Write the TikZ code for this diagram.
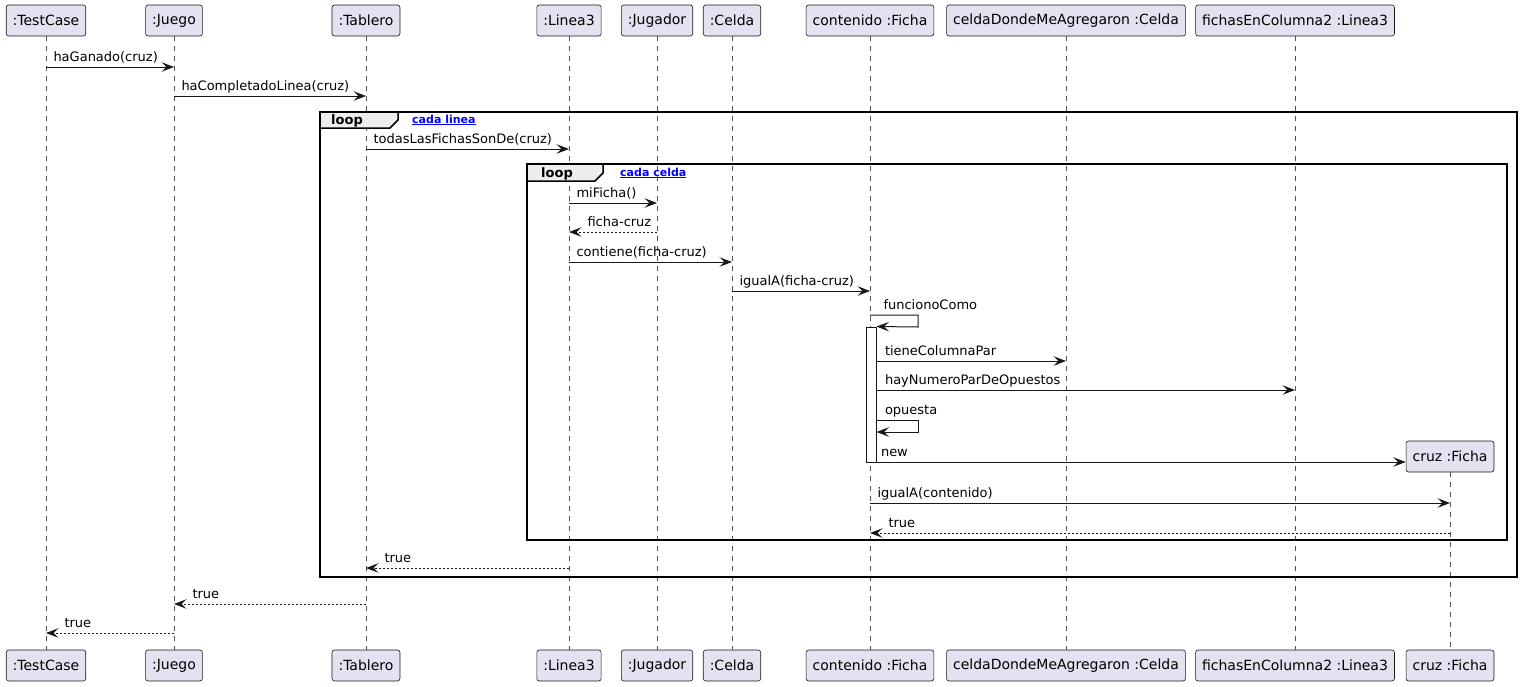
\documentclass[tikz,border=0pt]{standalone}
\usepackage{fontspec}
\setmainfont{DejaVu Sans}
\usetikzlibrary{arrows.meta}
\definecolor{pfill}{HTML}{E2E2F0}
\definecolor{pline}{HTML}{181818}
\definecolor{tabfill}{HTML}{EEEEEE}
\definecolor{condblue}{HTML}{0000FF}

\begin{document}
\begin{tikzpicture}[
  x=1pt,y=-1pt,
  part/.style={draw=pline,fill=pfill,rounded corners=2.5pt,line width=0.6pt,
               font=\fontsize{14}{16}\selectfont,minimum height=31pt,
               inner xsep=6.5pt,inner ysep=0pt},
  life/.style={draw=pline!75,line width=0.6pt,dash pattern=on 5pt off 5pt},
  msg/.style={-{Stealth[length=12.5pt,width=9.5pt,inset=5pt]},draw=pline,line width=1pt},
  ret/.style={msg,dash pattern=on 2pt off 2pt},
  lbl/.style={font=\fontsize{13}{15}\selectfont,anchor=base west,inner sep=0pt,
              xshift=7pt,yshift=6pt},
  rlbl/.style={font=\fontsize{13}{15}\selectfont,anchor=base west,inner sep=0pt,
               xshift=18pt,yshift=6pt},
  frame/.style={draw=black,line width=1.5pt},
  tab/.style={draw=black,line width=1.5pt,fill=tabfill},
  kw/.style={font=\bfseries\fontsize{13}{15}\selectfont,anchor=base west,inner sep=0pt},
  cond/.style={font=\bfseries\fontsize{11}{13}\selectfont,text=condblue,
               anchor=base west,inner sep=0pt},
  actbar/.style={draw=pline,fill=white,line width=1pt,inner sep=0pt,
                 minimum width=10pt,minimum height=135pt}
]
\useasboundingbox (0,0) rectangle (1521,686);

\node[part] (tc) at (46,20.5) {:TestCase};
\node[part] (juego) at (174,20.5) {:Juego};
\node[part] (tablero) at (366,20.5) {:Tablero};
\node[part] (linea) at (569,20.5) {:Linea3};
\node[part] (jugador) at (657,20.5) {:Jugador};
\node[part] (celda) at (732,20.5) {:Celda};
\node[part] (contenido) at (870,20.5) {contenido :Ficha};
\node[part] (celdaDonde) at (1066,20.5) {celdaDondeMeAgregaron :Celda};
\node[part] (fichasCol) at (1295,20.5) {fichasEnColumna2 :Linea3};
\node[part] (cruz) at (1450,456.5) {cruz :Ficha};

\node[part] (tcB) at (46,665.5) {:TestCase};
\node[part] (juegoB) at (174,665.5) {:Juego};
\node[part] (tableroB) at (366,665.5) {:Tablero};
\node[part] (lineaB) at (569,665.5) {:Linea3};
\node[part] (jugadorB) at (657,665.5) {:Jugador};
\node[part] (celdaB) at (732,665.5) {:Celda};
\node[part] (contenidoB) at (870,665.5) {contenido :Ficha};
\node[part] (celdaDondeB) at (1066,665.5) {celdaDondeMeAgregaron :Celda};
\node[part] (fichasColB) at (1295,665.5) {fichasEnColumna2 :Linea3};
\node[part] (cruzB) at (1450,665.5) {cruz :Ficha};

\draw[life] (tc) -- (tcB);
\draw[life] (juego) -- (juegoB);
\draw[life] (tablero) -- (tableroB);
\draw[life] (linea) -- (lineaB);
\draw[life] (jugador) -- (jugadorB);
\draw[life] (celda) -- (celdaB);
\draw[life] (contenido) -- (contenidoB);
\draw[life] (celdaDonde) -- (celdaDondeB);
\draw[life] (fichasCol) -- (fichasColB);
\draw[life] (cruz) -- (cruzB);

\draw[frame] (320,112) rectangle (1517,577);
\draw[tab] (320,112) -- (398,112) -- (398,120) -- (390,128) -- (320,128) -- cycle;
\node[kw] (loopA) at (331,124) {loop};
\node[cond] (condA) at (412,123) {\underline{cada linea}};

\draw[frame] (527,164) rectangle (1507,540);
\draw[tab] (527,164) -- (603,164) -- (603,173) -- (595,181) -- (527,181) -- cycle;
\node[kw] (loopB) at (541,177) {loop};
\node[cond] (condB) at (620,176) {\underline{cada celda}};

\node[actbar] (act) at (871,394.5) {};

\draw[msg] (tc |- 0,67) -- node[lbl,pos=0] {haGanado(cruz)} (juego |- 0,67);
\draw[msg] (juego |- 0,96) -- node[lbl,pos=0] {haCompletadoLinea(cruz)} (tablero |- 0,96);
\draw[msg] (tablero |- 0,149) -- node[lbl,pos=0] {todasLasFichasSonDe(cruz)} (linea |- 0,149);
\draw[msg] (linea |- 0,203) -- node[lbl,pos=0] {miFicha()} (jugador |- 0,203);
\draw[ret] (jugador |- 0,232) -- node[rlbl,pos=1] {ficha-cruz} (linea |- 0,232);
\draw[msg] (linea |- 0,262) -- node[lbl,pos=0] {contiene(ficha-cruz)} (celda |- 0,262);
\draw[msg] (celda |- 0,291) -- node[lbl,pos=0] {igualA(ficha-cruz)} (contenido |- 0,291);
\draw[msg] (contenido |- 0,315) -- node[lbl,pos=0,xshift=6pt] {funcionoComo} ++(48,0) -- ++(0,12) -- (act.north east);
\draw[msg] (act.east |- 0,361) -- node[lbl,pos=0,xshift=1pt] {tieneColumnaPar} (celdaDonde |- 0,361);
\draw[msg] (act.east |- 0,390) -- node[lbl,pos=0,xshift=1pt] {hayNumeroParDeOpuestos} (fichasCol |- 0,390);
\draw[msg] (act.east |- 0,420) -- node[lbl,pos=0,xshift=1pt] {opuesta} ++(42,0) -- ++(0,12) -- (act.east |- 0,432);
\draw[msg] (act.east |- 0,462) -- node[lbl,pos=0,xshift=-3pt] {new} (cruz.west |- 0,462);
\draw[msg] (contenido |- 0,503) -- node[lbl,pos=0] {igualA(contenido)} (cruz |- 0,503);
\draw[ret] (cruz |- 0,533) -- node[rlbl,pos=1] {true} (contenido |- 0,533);
\draw[ret] (linea |- 0,568) -- node[rlbl,pos=1] {true} (tablero |- 0,568);
\draw[ret] (tablero |- 0,604) -- node[rlbl,pos=1] {true} (juego |- 0,604);
\draw[ret] (juego |- 0,633) -- node[rlbl,pos=1] {true} (tc |- 0,633);
\end{tikzpicture}
\end{document}
